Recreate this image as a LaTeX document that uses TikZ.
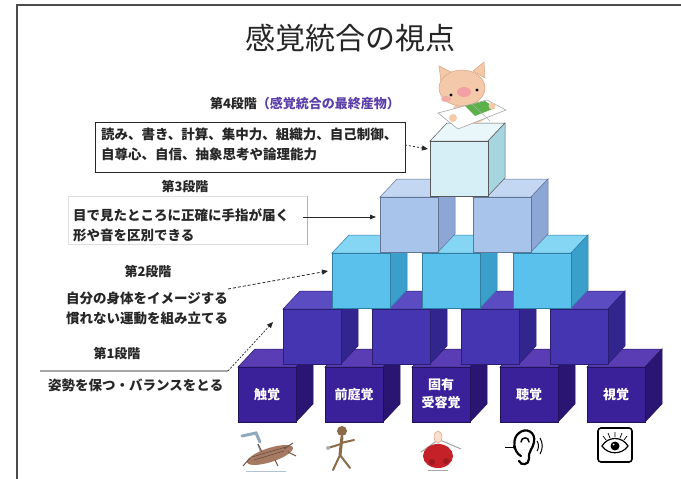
\documentclass[tikz,border=0pt]{standalone}
\usepackage{fontspec}
\usetikzlibrary{arrows.meta}
\newfontfamily\jp{Noto Sans CJK JP}

% cube colours per row: f = front, s = side, t = top
\definecolor{r1f}{HTML}{3B2199}
\definecolor{r1s}{HTML}{2A1672}
\definecolor{r1t}{HTML}{5A3DB4}
\definecolor{r2f}{HTML}{4535B0}
\definecolor{r2s}{HTML}{33258E}
\definecolor{r2t}{HTML}{5C4CC2}
\definecolor{r3f}{HTML}{59C1EC}
\definecolor{r3s}{HTML}{3A9FCB}
\definecolor{r3t}{HTML}{85D5F4}
\definecolor{r4f}{HTML}{A9C4EA}
\definecolor{r4s}{HTML}{8CA7D5}
\definecolor{r4t}{HTML}{C3D6F2}
\definecolor{r5f}{HTML}{D6EEF6}
\definecolor{r5s}{HTML}{A6D5DF}
\definecolor{r5t}{HTML}{E9F7FA}
\definecolor{headpurple}{HTML}{5B3FA8}
\definecolor{pigskin}{HTML}{F3C9A9}
\definecolor{pigline}{HTML}{D9A583}
\definecolor{pigsnout}{HTML}{F2A0A4}
\definecolor{bookgreen}{HTML}{5DB04A}
\definecolor{skinbrown}{HTML}{A67A62}
\definecolor{runbrown}{HTML}{8B6A4A}
\definecolor{tapblue}{HTML}{8FA9BE}
\definecolor{redbody}{HTML}{C42128}

% one cube: #1,#2 = top-left corner of the front face, #3 = row colour prefix, #4 = edge colour
\newcommand\drawcube[4]{%
  \filldraw[fill=#3t, draw=#4, line width=0.5pt] (#1,#2) -- ++(17,-18) -- ++(58,0) -- ++(-17,18) -- cycle;
  \filldraw[fill=#3s, draw=#4, line width=0.5pt] (#1+58,#2) -- ++(17,-18) -- ++(0,55) -- ++(-17,18) -- cycle;
  \filldraw[fill=#3f, draw=#4, line width=0.5pt] (#1,#2) rectangle ++(58,55);
}

\tikzset{
  stagehead/.style={font=\jp\bfseries\fontsize{13}{15}\selectfont, inner sep=0pt, text=black!85},
  stagetext/.style={font=\jp\bfseries\fontsize{13.5}{20}\selectfont, inner sep=0pt, text=black!85, align=left, anchor=west},
  senselab/.style={font=\jp\bfseries\fontsize{13}{18}\selectfont, inner sep=0pt, text=white, align=center},
  dasharrow/.style={dash pattern=on 3pt off 2pt, -{Triangle[length=6pt,width=5pt]}, line width=0.8pt, black!85},
  solidarrow/.style={-{Triangle[length=6pt,width=4.5pt]}, line width=0.8pt, black!85},
}

\begin{document}
\begin{tikzpicture}[x=1pt, y=-1pt]
\useasboundingbox (0,0) rectangle (681,479);
\fill[white] (0,0) rectangle (681,479);

% page frame
\draw[gray!60!black, line width=1.6pt] (17,479) -- (17,5) -- (681,5);

% title
\node[font=\jp\fontsize{30}{34}\selectfont, text=black!85] (title) at (350,38) {感覚統合の視点};

% pyramid, bottom row first so that higher rows overlap it
\foreach \x in {238,325,412,500,587} { \drawcube{\x}{367}{r1}{r1s!80!black} }
\foreach \x in {283,372,461,550} { \drawcube{\x}{309}{r2}{r2s!80!black} }
\foreach \x in {332,422,513} { \drawcube{\x}{253}{r3}{r3s!80!black} }
\foreach \x in {380,473} { \drawcube{\x}{197}{r4}{r4s!70!black} }
\drawcube{430}{141}{r5}{black!65}

% sense labels on the bottom row
\node[senselab] (s1) at (267,395) {触覚};
\node[senselab] (s2) at (354,395) {前庭覚};
\node[senselab] (s3) at (441,394) {固有\\受容覚};
\node[senselab] (s4) at (529,395) {聴覚};
\node[senselab] (s5) at (616,395) {視覚};

% pig reading a book on the top cube
\fill[pigskin] (470,112) ellipse [x radius=18, y radius=12];
\filldraw[fill=pigskin, draw=pigline, line width=0.5pt] (441,82) -- (439,66) -- (453,73) -- cycle;
\filldraw[fill=pigskin, draw=pigline, line width=0.5pt] (473,71) -- (484,62) -- (485,78) -- cycle;
\filldraw[fill=pigskin, draw=pigline, line width=0.5pt] (462,88) ellipse [x radius=23, y radius=18];
\fill[pigsnout] (464,92) ellipse [x radius=7, y radius=5];
\fill[pigsnout!70!pigskin] (446,99) ellipse [x radius=5, y radius=3];
\fill[black] (451,95) circle (1.7);
\fill[black] (477,90) circle (1.7);
\filldraw[fill=white, draw=gray!70, line width=0.6pt] (438,113) -- (487,100) -- (506,110) -- (458,129) -- cycle;
\fill[bookgreen] (465,106) -- (485,101) -- (495,108) -- (475,116) -- cycle;
\draw[gray!60, line width=0.5pt] (472,104) -- (490,121);
\fill[pigskin] (453,118) circle (4);
\fill[pigskin] (492,106) circle (3.5);

% stage 4
\node[stagehead] (h4) at (305,104) {第4段階{\color{headpurple}（感覚統合の最終産物）}};
\node[draw=black!85, line width=1.2pt, inner sep=0pt, minimum width=310pt, minimum height=50pt, anchor=north west] (box4) at (95,122) {};
\node[stagetext] (t4) at (101,144) {読み、書き、計算、集中力、組織力、自己制御、\\自尊心、自信、抽象思考や論理能力};
\coordinate (a4s) at (405,145);
\coordinate (c5) at (428,149);
\draw[dasharrow, dash pattern=on 2pt off 2pt] (a4s) -- (c5);

% stage 3
\node[stagehead] (h3) at (185,187) {第3段階};
\node[draw=gray!25, line width=0.8pt, inner sep=0pt, minimum width=239pt, minimum height=48pt, anchor=north west] (box3) at (68,196) {};
\draw[gray!60, line width=0.8pt] (box3.north east) -- (box3.south east);
\node[stagetext] (t3) at (73,225) {目で見たところに正確に手指が届く\\形や音を区別できる};
\coordinate (a3s) at (303,217);
\coordinate (c4) at (376,217);
\draw[solidarrow] (a3s) -- (c4);

% stage 2
\node[stagehead] (h2) at (148,272) {第2段階};
\node[stagetext] (t2) at (66,308) {自分の身体をイメージする\\慣れない運動を組み立てる};
\coordinate (a2s) at (228,289);
\coordinate (c3) at (328,271);
\draw[dasharrow] (a2s) -- (c3);

% stage 1
\node[stagehead] (h1) at (117,354) {第1段階};
\coordinate (rule1a) at (40,371);
\coordinate (rule1b) at (228,371);
\draw[gray!70, line width=1.5pt] (rule1a) -- (rule1b);
\node[stagetext] (t1) at (48,385) {姿勢を保つ・バランスをとる};
\coordinate (c2) at (273,322);
\draw[dasharrow, dash pattern=on 2pt off 1.5pt, line width=0.7pt] (rule1b) -- (c2);

% touch: figure lying in a bath under a tap
\draw[tapblue, line width=3pt, line cap=round] (242,436) -- (256,433) -- (260,442);
\draw[tapblue, line width=1.5pt] (258,444) -- (262,456);
\fill[skinbrown, rotate around={18:(270,455)}] (270,455) ellipse [x radius=24, y radius=7];
\draw[skinbrown!70!black, line width=1pt] (250,458) -- (243,466) (262,452) -- (258,444) (284,449) -- (293,443) (288,452) -- (296,456) (275,460) -- (278,466);
\draw[skinbrown!60!black, line width=0.5pt] (252,457) -- (286,447) (254,460) -- (284,451);
\draw[tapblue!70, line width=1pt] (246,471) -- (286,471);

% vestibular: running figure
\fill[runbrown] (342,431) circle (5);
\draw[runbrown, line width=3pt, line cap=round] (342,437) -- (340,455);
\draw[runbrown, line width=2pt, line cap=round] (341,444) -- (328,448) (341,443) -- (354,440) (340,455) -- (333,470) (340,455) -- (350,468);
\fill[gray!60] (328,448) circle (2);

% proprioception: red seated figure
\draw[gray!70, line width=1pt] (438,440) -- (421,452) (440,440) -- (461,449);
\fill[redbody] (438,456) ellipse [x radius=15, y radius=12];
\fill[redbody!80!black] (432,462) circle (3) (446,461) circle (3);
\filldraw[fill=pigskin!60, draw=pigline, line width=0.5pt] (438,437) ellipse [x radius=4, y radius=6];
\draw[gray!70, line width=1pt] (428,470) -- (448,470);

% hearing: ear with incoming sound
\draw[black, line width=2.2pt, line cap=round] (521,456) .. controls (513,452) and (512,438) .. (519,433) .. controls (526,427) and (536,432) .. (534,442) .. controls (533,449) and (528,451) .. (529,459) .. controls (529,465) and (521,466) .. (519,461);
\draw[black, line width=1.5pt, line cap=round] (521,442) .. controls (521,437) and (529,436) .. (529,442);
\draw[black, line width=1pt, -{Triangle[length=3pt,width=3pt]}] (505,447) -- (516,447);
\draw[black, line width=1pt] (537,441) .. controls (539,444) and (539,448) .. (537,451) (540,438) .. controls (543,443) and (543,449) .. (540,454);

% sight: eye in a rounded box
\draw[black, line width=1.6pt, rounded corners=3pt] (598,428) rectangle (632,462);
\filldraw[fill=white, draw=black, line width=1.2pt] (602,446) .. controls (608,436) and (622,436) .. (628,446) .. controls (622,455) and (608,455) .. (602,446) -- cycle;
\fill[black] (615,446) circle (4.5);
\fill[white] (613.5,444.5) circle (1);
\draw[black, line width=0.7pt] (606,440) -- (603,436) (610,438) -- (608,433) (615,437) -- (615,432) (620,438) -- (622,433) (624,440) -- (627,436);
\end{tikzpicture}
\end{document}
